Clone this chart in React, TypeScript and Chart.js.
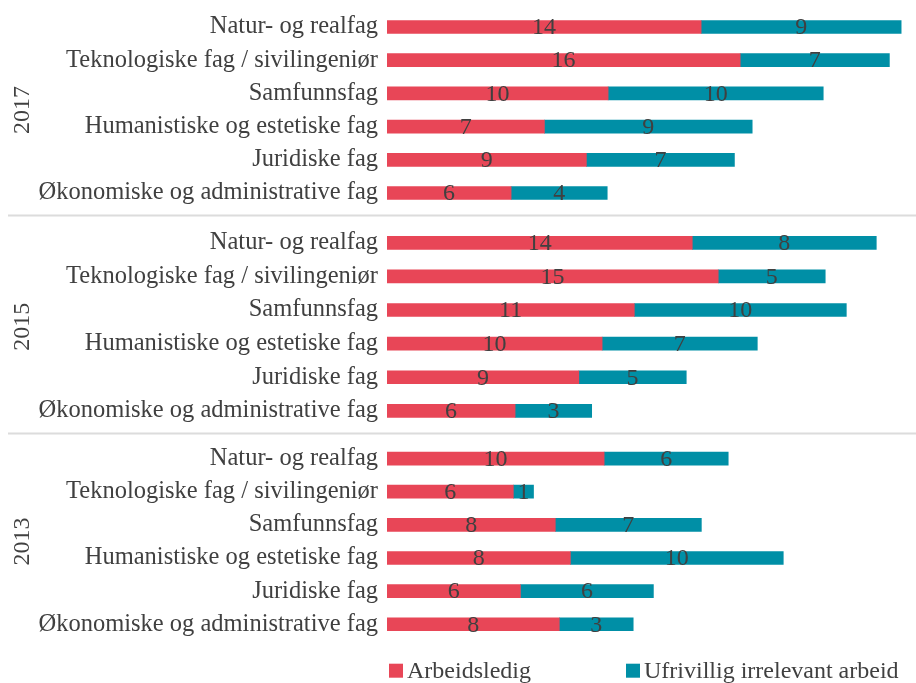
import React, { useEffect, useRef } from "react";
import { Chart, registerables } from "chart.js";

Chart.register(...registerables);

// ---- data ----
const categories = [
  "Natur- og realfag",
  "Teknologiske fag / sivilingeniør",
  "Samfunnsfag",
  "Humanistiske og estetiske fag",
  "Juridiske fag",
  "Økonomiske og administrative fag",
];
const seriesNames = ["Arbeidsledig", "Ufrivillig irrelevant arbeid"];
const years = ["2017", "2015", "2013"];

const arbeidsledig2017 = [14.15, 15.91, 9.96, 7.09, 8.98, 5.59];
const irrelevant2017 = [9.01, 6.72, 9.69, 9.36, 6.67, 4.33];
const arbeidsledig2015 = [13.75, 14.92, 11.14, 9.69, 8.64, 5.77];
const irrelevant2015 = [8.29, 4.82, 9.55, 6.99, 4.84, 3.45];
const arbeidsledig2013 = [9.78, 5.69, 7.58, 8.26, 6.01, 7.76];
const irrelevant2013 = [5.59, 0.91, 6.58, 9.59, 5.99, 3.33];

const xMax = 23.5;

// ---- styles ----
const FONT = "'Liberation Serif', 'Times New Roman', serif";
const TEXT = "#404040";
const RED = "#E84657";
const TEAL = "#008FA6";
const SEP = "#dcdcdc";

const valueLabels = {
  id: "valueLabels",
  afterDatasetsDraw(chart: any) {
    const ctx = chart.ctx;
    ctx.save();
    ctx.font = `24px ${FONT}`;
    ctx.fillStyle = TEXT;
    ctx.textAlign = "center";
    ctx.textBaseline = "middle";
    chart.data.datasets.forEach((ds: any, di: number) => {
      const meta = chart.getDatasetMeta(di);
      meta.data.forEach((bar: any, i: number) => {
        const v = ds.data[i];
        const p = bar.getProps(["x", "base", "y"], true);
        ctx.fillText(String(Math.round(v)), (p.x + p.base) / 2, p.y + 1);
      });
    });
    ctx.restore();
  },
};

const separator = {
  id: "separator",
  afterDraw(chart: any, _args: any, opts: any) {
    if (!opts || !opts.show) return;
    const ctx = chart.ctx;
    ctx.save();
    ctx.strokeStyle = SEP;
    ctx.lineWidth = 2;
    ctx.beginPath();
    ctx.moveTo(8, opts.y);
    ctx.lineTo(chart.width, opts.y);
    ctx.stroke();
    ctx.restore();
  },
};

const bottomLegend = {
  id: "bottomLegend",
  afterDraw(chart: any, _args: any, opts: any) {
    if (!opts || !opts.show) return;
    const ctx = chart.ctx;
    const left = chart.chartArea.left;
    const y = opts.y;
    const offsets = [2, 239];
    ctx.save();
    ctx.font = `24px ${FONT}`;
    ctx.textAlign = "left";
    ctx.textBaseline = "middle";
    chart.data.datasets.forEach((ds: any, i: number) => {
      const x = left + offsets[i];
      ctx.fillStyle = ds.backgroundColor;
      ctx.fillRect(x, y - 7, 14, 14);
      ctx.fillStyle = TEXT;
      ctx.fillText(ds.label, x + 18, y + 1);
    });
    ctx.restore();
  },
};

type YearProps = {
  year: string;
  red: number[];
  teal: number[];
  top: number;
  height: number;
  padTop: number;
  padBottom: number;
  sepY?: number;
  legendY?: number;
};

function YearChart(props: YearProps) {
  const ref = useRef<HTMLCanvasElement | null>(null);
  useEffect(() => {
    if (!ref.current) return;
    const chart = new Chart(ref.current, {
      type: "bar",
      data: {
        labels: categories,
        datasets: [
          { label: seriesNames[0], data: props.red, backgroundColor: RED, barThickness: 13 },
          { label: seriesNames[1], data: props.teal, backgroundColor: TEAL, barThickness: 13 },
        ],
      },
      options: {
        indexAxis: "y",
        responsive: false,
        animation: false,
        devicePixelRatio: 1,
        layout: { padding: { top: props.padTop, bottom: props.padBottom, left: 0, right: 7.3 } },
        scales: {
          x: { stacked: true, display: false, min: 0, max: xMax },
          y: {
            stacked: true,
            grid: { display: false, drawTicks: false },
            border: { display: false },
            ticks: {
              autoSkip: false,
              padding: 9,
              color: TEXT,
              font: { family: FONT, size: 24.5 },
            },
            title: {
              display: true,
              text: props.year,
              color: TEXT,
              font: { family: FONT, size: 24 },
              padding: { top: 8, bottom: 0 },
            },
            afterFit(scale: any) {
              scale.width = 387;
              scale.paddingTop = 0;
              scale.paddingBottom = 0;
            },
          },
        },
        plugins: {
          legend: { display: false },
          tooltip: { enabled: false },
          separator: { show: props.sepY !== undefined, y: props.sepY },
          bottomLegend: { show: props.legendY !== undefined, y: props.legendY },
        } as any,
      },
      plugins: [valueLabels, separator, bottomLegend],
    } as any);
    return () => chart.destroy();
  }, []);
  return (
    <canvas
      ref={ref}
      width={916}
      height={props.height}
      style={{ position: "absolute", left: 0, top: props.top, width: 916, height: props.height }}
    />
  );
}

export default function App() {
  return (
    <div style={{ position: "fixed", left: 0, top: 0, width: 916, height: 683, background: "#fff" }}>
      <YearChart year={years[0]} red={arbeidsledig2017} teal={irrelevant2017}
        top={0} height={217} padTop={10.4} padBottom={7.4} sepY={215.5} />
      <YearChart year={years[1]} red={arbeidsledig2015} teal={irrelevant2015}
        top={217} height={218} padTop={9} padBottom={7.3} sepY={216.5} />
      <YearChart year={years[2]} red={arbeidsledig2013} teal={irrelevant2013}
        top={435} height={248} padTop={7} padBottom={42.2} legendY={235.7} />
    </div>
  );
}
